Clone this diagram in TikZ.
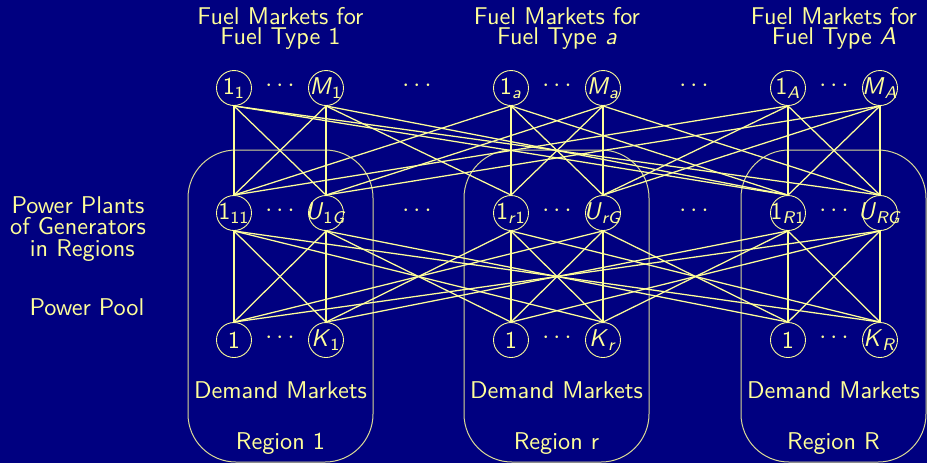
\documentclass[tikz,border=0pt]{standalone}
\definecolor{navy}{HTML}{000080}
\definecolor{fg}{HTML}{FFFF99}
% market label: main symbol with a subscript, kept from widening the circle
\newcommand\mlab[2]{\makebox[0pt]{#1\textsubscript{#2}}}
\begin{document}
\begin{tikzpicture}[x=0.4pt,y=-0.4pt,
  every node/.style={text=fg, font=\sffamily\fontsize{9.7}{8}\selectfont},
  mkt/.style={circle, draw=fg, line width=0.35pt, minimum size=14pt, inner sep=0pt},
  link/.style={draw=fg, line width=0.5pt},
  regionbox/.style={draw=fg!85!navy, line width=0.4pt, rounded corners=19.2pt},
  heading/.style={align=center},
  sidelabel/.style={align=center, font=\sffamily\fontsize{9.7}{8.7}\selectfont},
  ]
% background
\fill[navy] (0,0) rectangle (927,463);
\useasboundingbox (0,0) rectangle (927,463);

% regions
\draw[regionbox] (188,150) rectangle (373,462);
\draw[regionbox] (464,150) rectangle (649,462);
\draw[regionbox] (741,150) rectangle (926,462);

% fuel markets
\node[mkt] (t1) at (234,88) {\mlab{1}{1}};
\node[mkt] (t2) at (326,88) {\mlab{\textit{M}}{1}};
\node[mkt] (t3) at (511,88) {\mlab{1}{\textit{a}}};
\node[mkt] (t4) at (603,88) {\mlab{\textit{M}}{\textit{a}}};
\node[mkt] (t5) at (788,88) {\mlab{1}{\textit{A}}};
\node[mkt] (t6) at (880,88) {\mlab{\textit{M}}{\textit{A}}};

% power plants
\node[mkt] (p1) at (234,213) {\mlab{1}{11}};
\node[mkt] (p2) at (326,213) {\mlab{\textit{U}}{1\textit{G}}};
\node[mkt] (p3) at (511,213) {\mlab{1}{\textit{r}1}};
\node[mkt] (p4) at (603,213) {\mlab{\textit{U}}{\textit{rG}}};
\node[mkt] (p5) at (788,213) {\mlab{1}{\textit{R}1}};
\node[mkt] (p6) at (880,213) {\mlab{\textit{U}}{\textit{RG}}};

% demand markets
\node[mkt] (d1) at (234,340) {\makebox[0pt]{1}};
\node[mkt] (d2) at (326,340) {\mlab{\textit{K}}{1}};
\node[mkt] (d3) at (511,340) {\makebox[0pt]{1}};
\node[mkt] (d4) at (603,340) {\mlab{\textit{K}}{\textit{r}}};
\node[mkt] (d5) at (788,340) {\makebox[0pt]{1}};
\node[mkt] (d6) at (880,340) {\mlab{\textit{K}}{\textit{R}}};

% links inside a column pair: full crossing
\foreach \a/\b in {1/2,3/4,5/6} {
  \draw[link] (t\a.south) -- (p\a.north);
  \draw[link] (t\a.south) -- (p\b.north);
  \draw[link] (t\b.south) -- (p\a.north);
  \draw[link] (t\b.south) -- (p\b.north);
  \draw[link] (p\a.south) -- (d\a.north);
  \draw[link] (p\a.south) -- (d\b.north);
  \draw[link] (p\b.south) -- (d\a.north);
  \draw[link] (p\b.south) -- (d\b.north);
}
% fuel markets to plants of other regions
\foreach \a/\b in {1/5,1/6,2/3,2/5,3/1,3/5,4/2,4/6,5/1,5/4,6/2,6/4}
  \draw[link] (t\a.south) -- (p\b.north);
% plants to demand markets of other regions
\foreach \a/\b in {1/4,1/6,2/3,2/5,3/2,3/6,4/1,4/5,5/2,5/4,6/1,6/3}
  \draw[link] (p\a.south) -- (d\b.north);

% ellipses
\node (e1) at (280,86) {$\cdots$};
\node (e2) at (557,86) {$\cdots$};
\node (e3) at (834,86) {$\cdots$};
\node (e4) at (417,86) {$\cdots$};
\node (e5) at (694,86) {$\cdots$};
\node (e6) at (280,211) {$\cdots$};
\node (e7) at (557,211) {$\cdots$};
\node (e8) at (834,211) {$\cdots$};
\node (e9) at (417,211) {$\cdots$};
\node (e10) at (694,211) {$\cdots$};
\node (e11) at (280,338) {$\cdots$};
\node (e12) at (557,338) {$\cdots$};
\node (e13) at (834,338) {$\cdots$};

% headings
\node[heading] (h1) at (280.5,28) {Fuel Markets for\\Fuel Type 1};
\node[heading] (h2) at (557,28) {Fuel Markets for\\Fuel Type \textit{a}};
\node[heading] (h3) at (834,28) {Fuel Markets for\\Fuel Type \textit{A}};

% side labels
\node[sidelabel] (s1) at (78,229) {Power Plants\\of Generators\\\hspace*{0.35em}in Regions};
\node (s2) at (87,307) {Power Pool};

% region captions
\node (dm1) at (280.5,390) {Demand Markets};
\node (dm2) at (556.5,390) {Demand Markets};
\node (dm3) at (833.5,390) {Demand Markets};
\node (r1) at (280.5,444) {Region 1};
\node (r2) at (556.5,444) {Region r};
\node (r3) at (833.5,444) {Region R};
\end{tikzpicture}
\end{document}
